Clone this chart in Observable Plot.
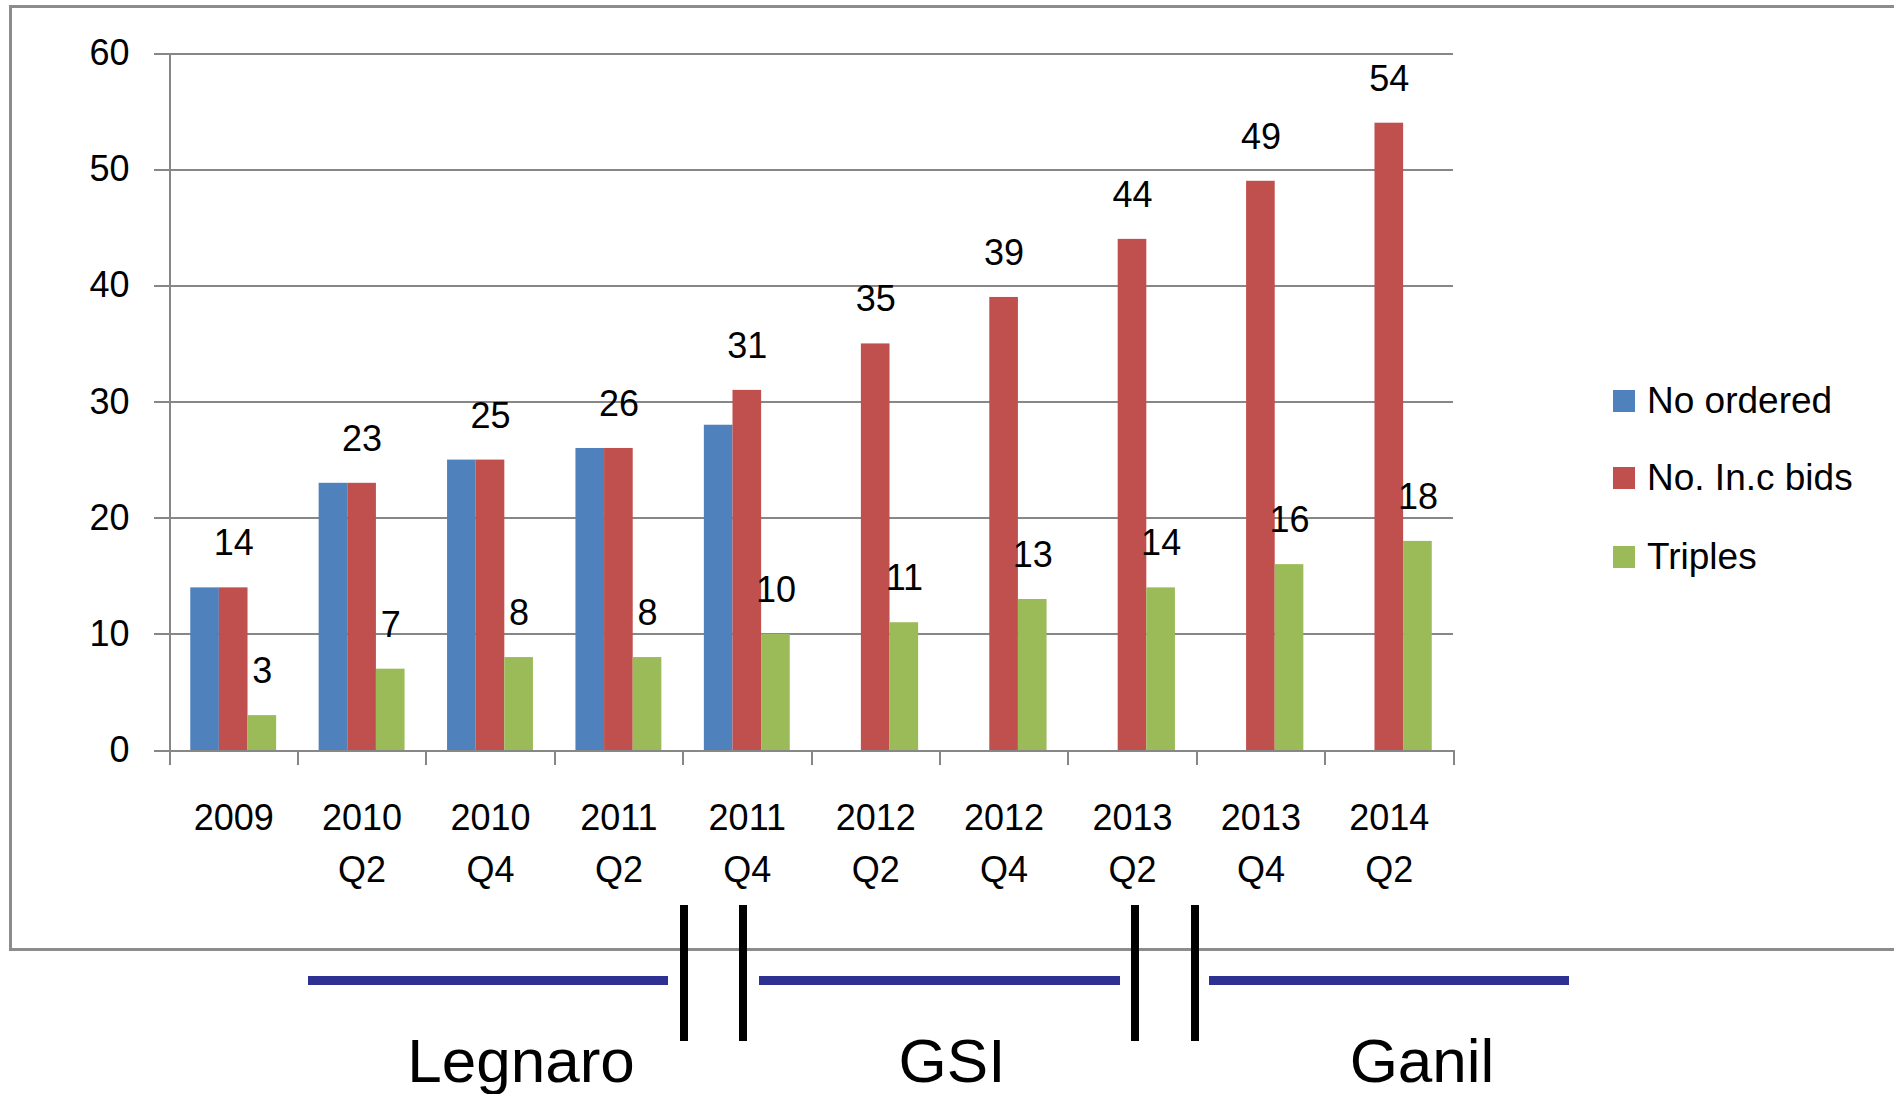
<!DOCTYPE html>
<html>
<head>
<meta charset="utf-8">
<script src="https://cdn.jsdelivr.net/npm/d3@7"></script>
<script src="https://cdn.jsdelivr.net/npm/@observablehq/plot@0.6"></script>
<style>
  html, body { margin: 0; padding: 0; background: #fff; }
  #wrap { position: relative; width: 1894px; height: 1094px; overflow: hidden; font-family: "Liberation Sans", Arial, sans-serif; }
  #chart { position: absolute; left: 0; top: 0; }
  #frame { position: absolute; left: 9px; top: 5px; width: 1900px; height: 946px; border: 3px solid #8c8c8c; border-right: none; box-sizing: border-box; pointer-events: none; }
  .lg-item { position: absolute; left: 1613px; height: 44px; display: flex; align-items: center; }
  .lg-sw { width: 22px; height: 22px; margin-right: 12px; }
  .lg-tx { font-size: 37px; color: #000; white-space: nowrap; }
  .ann { position: absolute; }
  .site { position: absolute; font-size: 62px; color: #000; transform: translateX(-50%); white-space: nowrap; line-height: 1; }
</style>
</head>
<body>
<div id="wrap">
  <div id="chart"></div>
  <div id="frame"></div>
  <div id="legend"></div>
  <div id="annot"></div>
</div>
<script>
// ---- data ----
const categories = ["2009", "2010 Q2", "2010 Q4", "2011 Q2", "2011 Q4", "2012 Q2", "2012 Q4", "2013 Q2", "2013 Q4", "2014 Q2"];
const tickLabels = ["2009", "2010\nQ2", "2010\nQ4", "2011\nQ2", "2011\nQ4", "2012\nQ2", "2012\nQ4", "2013\nQ2", "2013\nQ4", "2014\nQ2"];
const seriesNames = ["No ordered", "No. In.c bids", "Triples"];
const seriesColors = ["#4f81bd", "#c0504d", "#9bbb59"];
const noOrdered = [14, 23, 25, 26, 28, null, null, null, null, null];
const incBids = [14, 23, 25, 26, 31, 35, 39, 44, 49, 54];
const triples = [3, 7, 8, 8, 10, 11, 13, 14, 16, 18];
const yTicks = [0, 10, 20, 30, 40, 50, 60];
const sites = ["Legnaro", "GSI", "Ganil"];

// ---- build ----
const seriesValues = [noOrdered, incBids, triples];
const rows = seriesValues.map((vals, k) =>
  categories.map((c, i) => ({cat: c, value: vals[i], series: seriesNames[k]})).filter(d => d.value != null)
);

const W = 1894, H = 960;
const mL = 169, mR = 441, mT = 53, mB = 210;
const step = (W - mL - mR) / categories.length;
const pad = 0.777;
const bw = step * (1 - pad);
const half = step / 2;
const gridColor = "#878787";

const marks = [
  Plot.ruleY(yTicks, {y: d => d, stroke: gridColor, strokeWidth: 2, insetLeft: -15, shapeRendering: "crispEdges"}),
  Plot.ruleX([categories[0]], {x: d => d, dx: -half, stroke: gridColor, strokeWidth: 2, insetBottom: -15, shapeRendering: "crispEdges"}),
  Plot.ruleX(categories.slice(1), {x: d => d, dx: -half, y1: () => 0, y2: () => 0, insetBottom: -15, stroke: gridColor, strokeWidth: 2, shapeRendering: "crispEdges"}),
  Plot.ruleX([categories[categories.length - 1]], {x: d => d, dx: half, y1: () => 0, y2: () => 0, insetBottom: -15, stroke: gridColor, strokeWidth: 2, shapeRendering: "crispEdges"}),
];
rows.forEach((r, k) => {
  marks.push(Plot.barY(r, {x: "cat", y: "value", fill: seriesColors[k], dx: (k - 1) * bw}));
});
// value labels for red and green series
[1, 2].forEach(k => {
  marks.push(Plot.text(rows[k], {x: "cat", y: "value", text: d => String(d.value), dx: (k - 1) * bw, dy: -44, fill: "#000"}));
});
marks.push(Plot.axisY({ticks: yTicks, tickSize: 0, tickPadding: 40, label: null, fontSize: 36}));
marks.push(Plot.axisX({tickSize: 0, tickPadding: 43, label: null, lineHeight: 1.43, fontSize: 36,
  tickFormat: d => tickLabels[categories.indexOf(d)]}));

const chart = Plot.plot({
  width: W, height: H,
  marginLeft: mL, marginRight: mR, marginTop: mT, marginBottom: mB,
  style: {fontFamily: "Liberation Sans, Arial, sans-serif", fontSize: "36px", background: "transparent", color: "#000"},
  x: {domain: categories, type: "band", paddingInner: pad, paddingOuter: pad / 2, round: false},
  y: {domain: [0, 60]},
  marks
});
document.getElementById("chart").appendChild(chart);

// ---- legend ----
const legend = document.getElementById("legend");
const legendY = [401, 478, 557];
seriesNames.forEach((name, k) => {
  const item = document.createElement("div");
  item.className = "lg-item";
  item.style.top = (legendY[k] - 22) + "px";
  const sw = document.createElement("div");
  sw.className = "lg-sw";
  sw.style.background = seriesColors[k];
  const tx = document.createElement("span");
  tx.className = "lg-tx";
  tx.textContent = name;
  item.appendChild(sw); item.appendChild(tx);
  legend.appendChild(item);
});

// ---- site annotation below the chart ----
const annot = document.getElementById("annot");
const blueSegs = [[308, 668], [759, 1120], [1209, 1569]];
blueSegs.forEach(([a, b]) => {
  const d = document.createElement("div");
  d.className = "ann";
  Object.assign(d.style, {left: a + "px", top: "976px", width: (b - a) + "px", height: "9px", background: "#2e3192"});
  annot.appendChild(d);
});
[684, 743, 1135, 1195].forEach(x => {
  const d = document.createElement("div");
  d.className = "ann";
  Object.assign(d.style, {left: (x - 4) + "px", top: "905px", width: "8px", height: "136px", background: "#000"});
  annot.appendChild(d);
});
const siteX = [521, 952, 1422];
sites.forEach((s, i) => {
  const d = document.createElement("div");
  d.className = "site";
  d.style.left = siteX[i] + "px";
  d.style.top = "1030px";
  d.textContent = s;
  annot.appendChild(d);
});
</script>
</body>
</html>
